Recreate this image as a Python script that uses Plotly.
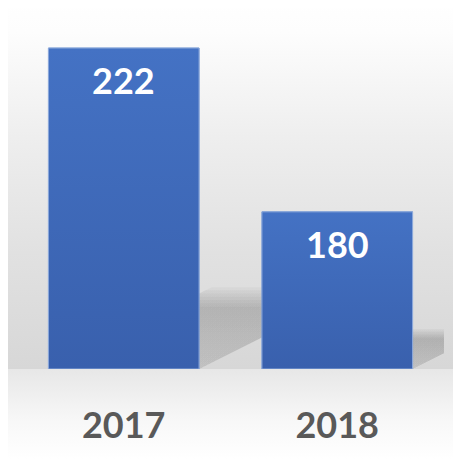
import base64
import plotly.graph_objects as go

years = ["2017", "2018"]
counts = [222, 180]

# axis floor (bars start here, like the Excel original)
y_min = 139.7
y_max = 229.7
bar_w = 0.7056

W, H = 461, 459
off = 8  # page body margin in front of the figure
m_l, m_r, m_t, m_b = 16.5 - off, 16.5 + off, 18 - off, 90 + off
pw = W - m_l - m_r
ph = H - m_t - m_b
px_x = pw / 2.0             # px per x unit
px_y = ph / (y_max - y_min)  # px per y unit

# background gradient as inline svg (in window pixels)
bg_svg = f"""<svg xmlns='http://www.w3.org/2000/svg' width='{W}' height='{H}' viewBox='0 0 {W} {H}' preserveAspectRatio='none'>
<defs><linearGradient id='g' x1='0' y1='0' x2='0' y2='1'>
<stop offset='0' stop-color='#ffffff'/>
<stop offset='0.07' stop-color='#fdfdfd'/>
<stop offset='0.3' stop-color='#eeeeee'/>
<stop offset='0.55' stop-color='#e1e1e1'/>
<stop offset='0.803' stop-color='#d7d7d7'/>
<stop offset='0.805' stop-color='#e7e7e7'/>
<stop offset='0.92' stop-color='#f8f8f8'/>
<stop offset='1' stop-color='#ffffff'/>
</linearGradient></defs>
<rect width='{W}' height='{H}' fill='url(#g)'/></svg>"""
bg_src = "data:image/svg+xml;base64," + base64.b64encode(bg_svg.encode()).decode()

fig = go.Figure()

# perspective shadows behind the bars, several faint layers for a soft edge
for i, v in enumerate(counts):
    xl, xr = i - bar_w / 2, i + bar_w / 2
    for k in (0.195, 0.205, 0.215, 0.225, 0.235, 0.245, 0.255):
        hs = k * (v - y_min)
        dx = 2 * hs * px_y / px_x
        fig.add_trace(go.Scatter(
            x=[xl, xr, xr + dx, xl + dx, xl],
            y=[y_min, y_min, y_min + hs, y_min + hs, y_min],
            mode="lines", line=dict(width=0), fill="toself",
            fillgradient=dict(type="vertical",
                              colorscale=[[0, "rgba(0,0,0,0.016)"], [1, "rgba(0,0,0,0.032)"]],
                              start=y_min, stop=y_min + hs),
            hoverinfo="skip", showlegend=False))

fig.add_trace(go.Bar(
    x=[0, 1], y=[v - y_min for v in counts], base=y_min, width=bar_w,
    marker=dict(color="#3f6aba", line=dict(color="#8eaadb", width=1)),
    hoverinfo="skip", showlegend=False))

# vertical shading on the bars
for i, v in enumerate(counts):
    xl, xr = i - bar_w / 2, i + bar_w / 2
    fig.add_trace(go.Scatter(
        x=[xl, xr, xr, xl, xl], y=[y_min, y_min, v, v, y_min],
        mode="lines", line=dict(color="#8eaadb", width=1), fill="toself",
        fillgradient=dict(type="vertical",
                          colorscale=[[0, "#3960ad"], [1, "#4472c4"]],
                          start=y_min, stop=v),
        hoverinfo="skip", showlegend=False))

for i, v in enumerate(counts):
    fig.add_annotation(x=i, y=v, text=str(v), showarrow=False, yanchor="top", yshift=-8,
                       font=dict(family="Lato", size=36, color="white", weight="bold"))

fig.update_layout(
    width=W, height=H,
    margin=dict(l=m_l, r=m_r, t=m_t, b=m_b),
    paper_bgcolor="white", plot_bgcolor="rgba(0,0,0,0)",
    images=[dict(source=bg_src, xref="paper", yref="paper",
                 x=(-off - m_l) / pw, y=1 + (m_t + off) / ph,
                 sizex=W / pw, sizey=H / ph, xanchor="left", yanchor="top",
                 sizing="stretch", layer="below")],
    xaxis=dict(range=[-0.5, 1.5], tickvals=[0, 1], ticktext=years, showgrid=False,
               zeroline=False, showline=False, ticks="", ticklabelstandoff=32,
               tickfont=dict(family="Lato", size=36, color="#595959", weight="bold")),
    yaxis=dict(range=[y_min, y_max], visible=False),
)

fig.write_html("out.html")
